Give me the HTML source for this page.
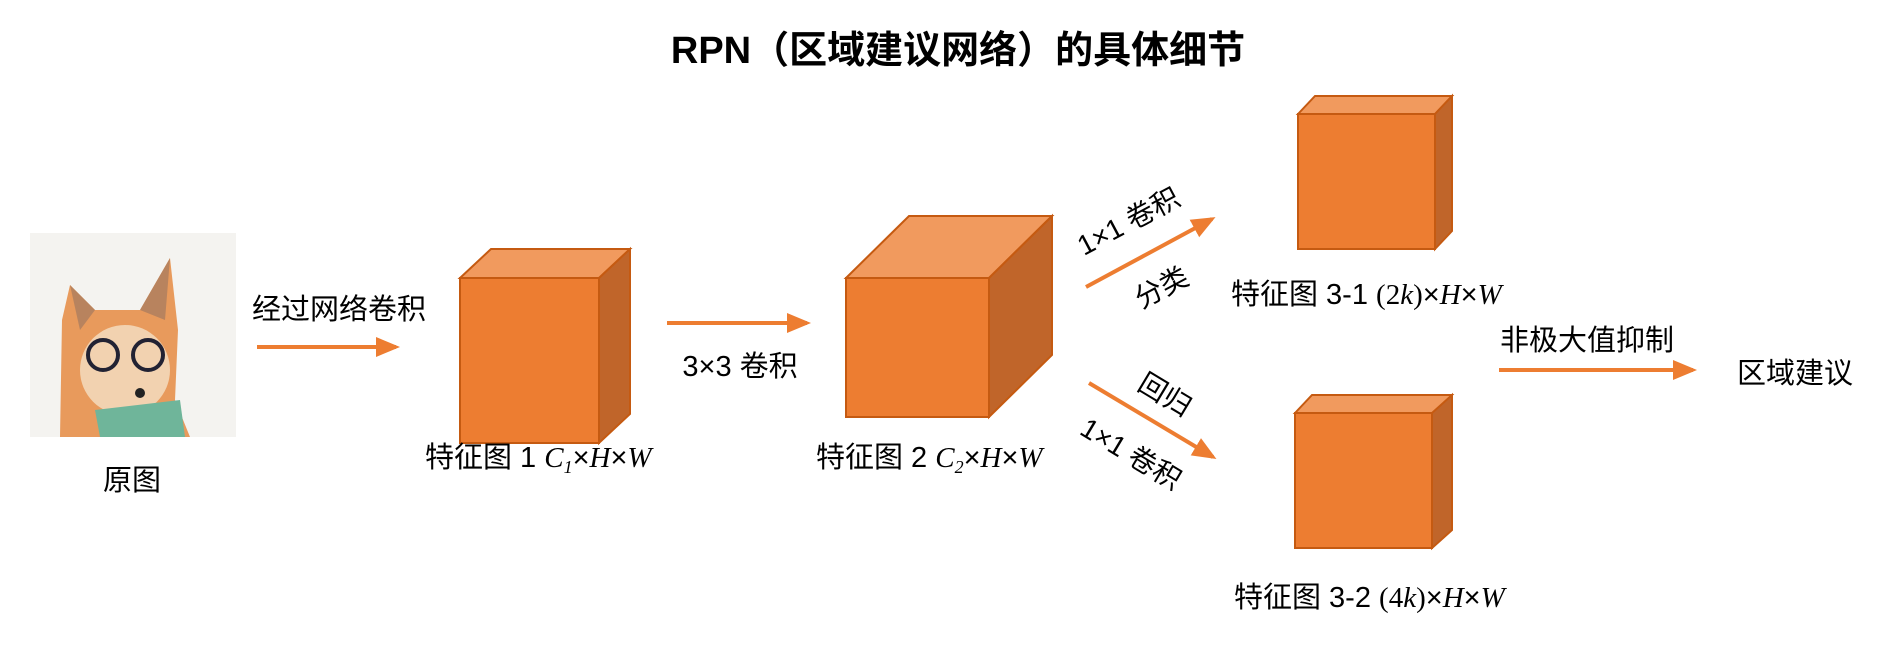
<!DOCTYPE html>
<html><head><meta charset="utf-8"><style>
html,body{margin:0;padding:0;background:#fff;}
svg{display:block;}
text{font-family:"Liberation Sans","Noto Sans CJK SC",sans-serif;fill:#000;}
.m{font-family:"Liberation Serif","Noto Serif CJK SC",serif;font-style:italic;}
</style></head><body>
<svg width="1877" height="647" viewBox="0 0 1877 647">
<defs>
<marker id="ah" markerWidth="7" markerHeight="6" refX="5" refY="3" orient="auto" markerUnits="strokeWidth">
<path d="M0,0.5 L6,3 L0,5.5 Z" fill="#ED7D31"/></marker>
</defs>
<text x="958" y="63" font-size="38" font-weight="bold" text-anchor="middle">RPN（区域建议网络）的具体细节</text>

<g>
<rect x="30" y="233" width="206" height="204" fill="#f4f3f0"/>
<path d="M60,437 L62,320 L70,285 L95,310 L140,310 L170,258 L178,330 L175,400 L190,437 Z" fill="#e89a5c"/>
<path d="M70,285 L95,310 L80,330 Z" fill="#b8835e"/>
<path d="M170,258 L140,310 L165,320 Z" fill="#b8835e"/>
<ellipse cx="125" cy="370" rx="45" ry="45" fill="#f2d2b0"/>
<circle cx="103" cy="355" r="15" fill="none" stroke="#223" stroke-width="4"/>
<circle cx="148" cy="355" r="15" fill="none" stroke="#223" stroke-width="4"/>
<circle cx="140" cy="393" r="5" fill="#222"/>
<path d="M95,410 L180,400 L185,437 L100,437 Z" fill="#6fb59a"/>
</g>
<text x="132" y="490" font-size="29" text-anchor="middle">原图</text>

<line x1="257" y1="347" x2="396" y2="347" stroke="#ED7D31" stroke-width="4" marker-end="url(#ah)"/>
<text x="339" y="319" font-size="29" text-anchor="middle">经过网络卷积</text>

<g stroke="#C55A11" stroke-width="2">
<polygon points="460,278 491,249 630,249 599,278" fill="#F19A5E"/>
<polygon points="599,278 630,249 630,414 599,443" fill="#C0652A"/>
<rect x="460" y="278" width="139" height="165" fill="#ED7D31"/>
</g>
<text x="425" y="467" font-size="29">特征图 1 <tspan class="m">C</tspan><tspan class="m" font-size="18" dy="6">1</tspan><tspan dy="-6">×</tspan><tspan class="m">H</tspan>×<tspan class="m">W</tspan></text>

<line x1="667" y1="323" x2="807" y2="323" stroke="#ED7D31" stroke-width="4" marker-end="url(#ah)"/>
<text x="740" y="376" font-size="29" text-anchor="middle">3×3 卷积</text>

<g stroke="#C55A11" stroke-width="2">
<polygon points="846,278 909,216 1052,216 989,278" fill="#F19A5E"/>
<polygon points="989,278 1052,216 1052,355 989,417" fill="#C0652A"/>
<rect x="846" y="278" width="143" height="139" fill="#ED7D31"/>
</g>
<text x="816" y="467" font-size="29">特征图 2 <tspan class="m">C</tspan><tspan class="m" font-size="18" dy="6">2</tspan><tspan dy="-6">×</tspan><tspan class="m">H</tspan>×<tspan class="m">W</tspan></text>

<line x1="1086" y1="287" x2="1212" y2="219" stroke="#ED7D31" stroke-width="4" marker-end="url(#ah)"/>
<text x="0" y="0" font-size="28" text-anchor="middle" transform="translate(1133,230) rotate(-28)">1×1 卷积</text>
<text x="0" y="0" font-size="28" text-anchor="middle" transform="translate(1166,296) rotate(-28)">分类</text>

<line x1="1089" y1="383" x2="1213" y2="457" stroke="#ED7D31" stroke-width="4" marker-end="url(#ah)"/>
<text x="0" y="0" font-size="28" text-anchor="middle" transform="translate(1160,403) rotate(31)">回归</text>
<text x="0" y="0" font-size="28" text-anchor="middle" transform="translate(1126,462) rotate(31)">1×1 卷积</text>

<g stroke="#C55A11" stroke-width="2">
<polygon points="1298,114 1315,96 1452,96 1435,114" fill="#F19A5E"/>
<polygon points="1435,114 1452,96 1452,231 1435,249" fill="#C0652A"/>
<rect x="1298" y="114" width="137" height="135" fill="#ED7D31"/>
</g>
<text x="1231" y="304" font-size="29">特征图 3-1 <tspan font-family="Liberation Serif">(2</tspan><tspan class="m">k</tspan><tspan font-family="Liberation Serif">)</tspan>×<tspan class="m">H</tspan>×<tspan class="m">W</tspan></text>

<g stroke="#C55A11" stroke-width="2">
<polygon points="1295,413 1312,395 1452,395 1435,413" fill="#F19A5E"/>
<polygon points="1432,413 1452,395 1452,530 1432,548" fill="#C0652A"/>
<rect x="1295" y="413" width="137" height="135" fill="#ED7D31"/>
</g>
<text x="1234" y="607" font-size="29">特征图 3-2 <tspan font-family="Liberation Serif">(4</tspan><tspan class="m">k</tspan><tspan font-family="Liberation Serif">)</tspan>×<tspan class="m">H</tspan>×<tspan class="m">W</tspan></text>

<line x1="1499" y1="370" x2="1693" y2="370" stroke="#ED7D31" stroke-width="4" marker-end="url(#ah)"/>
<text x="1587" y="350" font-size="29" text-anchor="middle">非极大值抑制</text>
<text x="1795" y="383" font-size="29" text-anchor="middle">区域建议</text>
</svg>
</body></html>
